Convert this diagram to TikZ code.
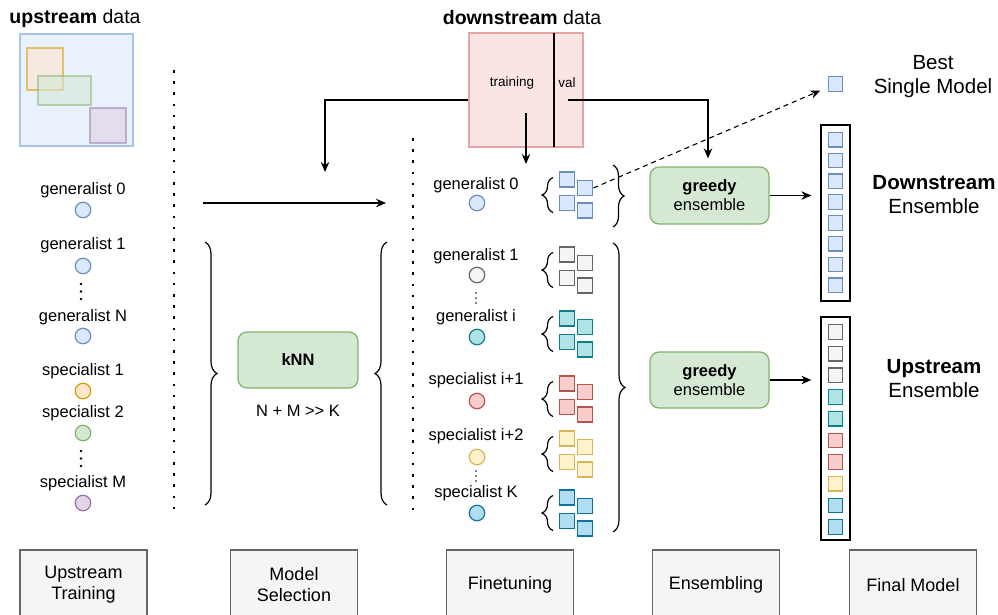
\documentclass[tikz,border=0pt]{standalone}
\usepackage{fontspec}
\setmainfont{Liberation Sans}
\usetikzlibrary{arrows.meta,decorations.pathreplacing,calc}
\definecolor{bluef}{HTML}{DAE8FC}\definecolor{bluel}{HTML}{6C8EBF}
\definecolor{grayf}{HTML}{F5F5F5}\definecolor{grayl}{HTML}{666666}
\definecolor{tealf}{HTML}{B0E3E6}\definecolor{teall}{HTML}{0E8088}
\definecolor{redf}{HTML}{F8CECC}\definecolor{redl}{HTML}{B85450}
\definecolor{yelf}{HTML}{FFF2CC}\definecolor{yell}{HTML}{D6B656}
\definecolor{bltf}{HTML}{B1DDF0}\definecolor{bltl}{HTML}{10739E}
\definecolor{orf}{HTML}{FFE6CC}\definecolor{orl}{HTML}{D79B00}
\definecolor{grf}{HTML}{D5E8D4}\definecolor{grl}{HTML}{82B366}
\definecolor{purf}{HTML}{E1D5E7}\definecolor{purl}{HTML}{9673A6}
\definecolor{upbg}{HTML}{E9F1FC}\definecolor{upln}{HTML}{A9C4EB}
\definecolor{pinkf}{HTML}{FBE5E4}\definecolor{pinkl}{HTML}{E6A5A5}
\begin{document}
\begin{tikzpicture}[x=1pt,y=-1pt,
  every node/.style={inner sep=0pt, text=black},
  tA/.style={font=\fontsize{16.5}{19}\selectfont},
  tS/.style={font=\fontsize{13.5}{16}\selectfont},
  tH/.style={font=\fontsize{19.5}{23}\selectfont},
  tR/.style={font=\fontsize{20.5}{24}\selectfont},
  tB/.style={font=\fontsize{18}{21}\selectfont},
  mc/.style 2 args={circle, minimum size=15.5pt, line width=1.2pt, fill=#1, draw=#2},
  sq/.style 2 args={rectangle, minimum size=15pt, line width=1.4pt, fill=#1, draw=#2},
  esq/.style 2 args={rectangle, minimum size=14.5pt, line width=1.2pt, fill=#1, draw=#2},
  arr/.style={line width=1.3pt, -{Stealth[length=10pt,width=8.5pt]}},
  brc/.style={decorate, decoration={brace, amplitude=#1}, line width=1.2pt},
  dotline/.style={line width=2.6pt, dash pattern=on 2.6pt off 8.6pt},
  gbox/.style={rounded corners=9pt, fill=grf, draw=grl, line width=1.2pt, align=center, tA},
  stage/.style={fill=grayf, draw=grayl, line width=1.2pt, minimum width=127pt, minimum height=70pt, align=center, tB},
  vdot/.style={circle, fill=black, minimum size=#1, inner sep=0pt}
]
\useasboundingbox (0,0) rectangle (998,614);

% ---------- upstream data ----------
\node[tH] (uptitle) at (75,18) {\textbf{upstream} data};
\node[rectangle, fill=upbg, draw=upln, line width=1.2pt, minimum width=113pt, minimum height=112pt] (upbox) at (76.5,90) {};
\node[rectangle, fill=orf, fill opacity=0.55, draw=orl, draw opacity=0.55, line width=1.2pt, minimum width=36pt, minimum height=42pt] (uor) at (45,69) {};
\node[rectangle, fill=grf, fill opacity=0.6, draw=grl, draw opacity=0.5, line width=1.2pt, minimum width=53pt, minimum height=29pt] (ugr) at (64.5,90.5) {};
\node[rectangle, fill=purf, fill opacity=0.7, draw=purl, draw opacity=0.5, line width=1.2pt, minimum width=36pt, minimum height=35pt] (upu) at (108,125.5) {};

% ---------- dotted separators ----------
\draw[dotline] (174,70) -- (174,512);
\draw[dotline] (413,138) -- (413,512);

% ---------- upstream models ----------
\node[tA] (lg0) at (83,190) {generalist 0};
\node[mc={bluef}{bluel}] (cg0) at (83,210) {};
\node[tA] (lg1) at (83,245) {generalist 1};
\node[mc={bluef}{bluel}] (cg1) at (83,266) {};
\node[vdot=2.6pt] (d1a) at (81,284) {};
\node[vdot=2.6pt] (d1b) at (81,291.5) {};
\node[vdot=2.6pt] (d1c) at (81,299) {};
\node[tA] (lgN) at (83,317) {generalist N};
\node[mc={bluef}{bluel}] (cgN) at (83,336) {};
\node[tA] (ls1) at (83,371) {specialist 1};
\node[mc={orf}{orl}] (cs1) at (83,391) {};
\node[tA] (ls2) at (83,413) {specialist 2};
\node[mc={grf}{grl}] (cs2) at (83,433) {};
\node[vdot=2.6pt] (d2a) at (81,451) {};
\node[vdot=2.6pt] (d2b) at (81,458.5) {};
\node[vdot=2.6pt] (d2c) at (81,466) {};
\node[tA] (lsM) at (83,483) {specialist M};
\node[mc={purf}{purl}] (csM) at (83,503) {};

% arrow for generalist 0
\coordinate (ga) at (203,203);
\coordinate (gb) at (386,203);
\draw[arr] (ga) -- (gb);

% ---------- model selection ----------
\draw[brc=12pt] (205,242) -- (205,505);
\node[gbox, minimum width=120pt, minimum height=56pt] (knn) at (298,360) {\textbf{kNN}};
\node[tA] (nmk) at (298,411) {N + M >{}> K};
\draw[brc=12pt] (387,505) -- (387,242);

% ---------- downstream data ----------
\node[tH] (dntitle) at (522,18) {\textbf{downstream} data};
\node[rectangle, fill=pinkf, draw=pinkl, line width=1.2pt, minimum width=114pt, minimum height=114pt] (down) at (526,90) {};
\draw[line width=1.3pt] (554,33) -- (554,147);
\node[tS] (train) at (512,83) {training};
\node[tS] (val) at (567,83) {val};

\coordinate (knntop) at (325,172);
\draw[arr] ($(down.west)+(0,10)$) -| (knntop);
\coordinate (trainout) at (526,113);
\coordinate (ftin) at (526,164);
\draw[arr] (trainout) -- (ftin);

% ---------- finetuning ----------
\node[tA] (fg0) at (476,185) {generalist 0};
\node[mc={bluef}{bluel}] (fc0) at (477,203) {};
\node[tA] (fg1) at (476,256) {generalist 1};
\node[mc={grayf}{grayl}] (fc1) at (477,275) {};
\node[vdot=1.7pt] (e1a) at (476,293) {};
\node[vdot=1.7pt] (e1b) at (476,298) {};
\node[vdot=1.7pt] (e1c) at (476,303) {};
\node[tA] (fgi) at (476,317) {generalist i};
\node[mc={tealf}{teall}] (fci) at (477,337) {};
\node[tA] (fs1) at (476,380) {specialist i+1};
\node[mc={redf}{redl}] (fcs1) at (477,401) {};
\node[tA] (fs2) at (476,436) {specialist i+2};
\node[mc={yelf}{yell}] (fcs2) at (477,457) {};
\node[vdot=1.7pt] (e2a) at (476,471) {};
\node[vdot=1.7pt] (e2b) at (476,476) {};
\node[vdot=1.7pt] (e2c) at (476,481) {};
\node[tA] (fsK) at (476,493) {specialist K};
\node[mc={bltf}{bltl}] (fcK) at (477,513) {};

% finetuned model groups
\foreach \G/\c/\n in {195/blue/a, 270/gray/b, 334/teal/c, 399/red/d, 454/yel/e, 513/blt/f}{
  \draw[brc=11pt] (553,\G+17.5) -- (553,\G-17.5);
  \node[sq={\c f}{\c l}] (q\n1) at (566.8,\G-15.5) {};
  \node[sq={\c f}{\c l}] (q\n2) at (585.2,\G-7) {};
  \node[sq={\c f}{\c l}] (q\n3) at (566.8,\G+8) {};
  \node[sq={\c f}{\c l}] (q\n4) at (585.2,\G+15.3) {};
}
\draw[brc=11pt] (613,165) -- (613,227);
\draw[brc=12pt] (613,243) -- (613,532);

% ---------- ensembling ----------
\node[gbox, minimum width=119pt, minimum height=57pt] (ge1) at (709.5,195.5) {\textbf{greedy}\\ensemble};
\node[gbox, minimum width=119pt, minimum height=56pt] (ge2) at (709.5,380) {\textbf{greedy}\\ensemble};
\coordinate (valout) at (568,100);
\draw[arr] (valout) -| ($(ge1.north)+(-1.5,-8)$);

% ---------- final models ----------
\node[esq={bluef}{bluel}] (best) at (835.5,84) {};
\draw[line width=1.1pt, dash pattern=on 5pt off 4pt, -{Stealth[length=10pt,width=8.5pt]}, shorten >=8pt] (qa2.east) -- (best);
\node[tR, align=center] (bestlbl) at (933,77) {Best\\Single Model};

\node[draw, line width=1.3pt, minimum width=29pt, minimum height=176pt] (dsens) at (835.5,213) {};
\foreach \i in {0,...,7}{
  \node[esq={bluef}{bluel}] (ds\i) at (835.5,139.7+20.8*\i) {};
}
\node[tR, align=center] (dslbl) at (934,195) {\textbf{Downstream}\\Ensemble};

\node[draw, line width=1.3pt, minimum width=29pt, minimum height=223pt] (usens) at (835.5,428.5) {};
\foreach \c [count=\i from 0] in {gray,gray,gray,teal,teal,red,red,yel,blt,blt}{
  \node[esq={\c f}{\c l}] (us\i) at (835.5,332+21.67*\i) {};
}
\node[tR, align=center] (uslbl) at (934,379) {\textbf{Upstream}\\Ensemble};

\draw[arr, shorten >=9pt] (ge1.east) -- (ge1.east -| dsens.west);
\draw[arr, shorten >=9pt] (ge2.east) -- (ge2.east -| usens.west);

% ---------- stages ----------
\node[stage] (st1) at (83.5,585) {Upstream\\Training};
\node[stage] (st2) at (294,585) {Model\\Selection};
\node[stage] (st3) at (510,585) {Finetuning};
\node[stage] (st4) at (716,585) {Ensembling};
\node[stage] (st5) at (913,585) {Final Model};
\end{tikzpicture}
\end{document}
